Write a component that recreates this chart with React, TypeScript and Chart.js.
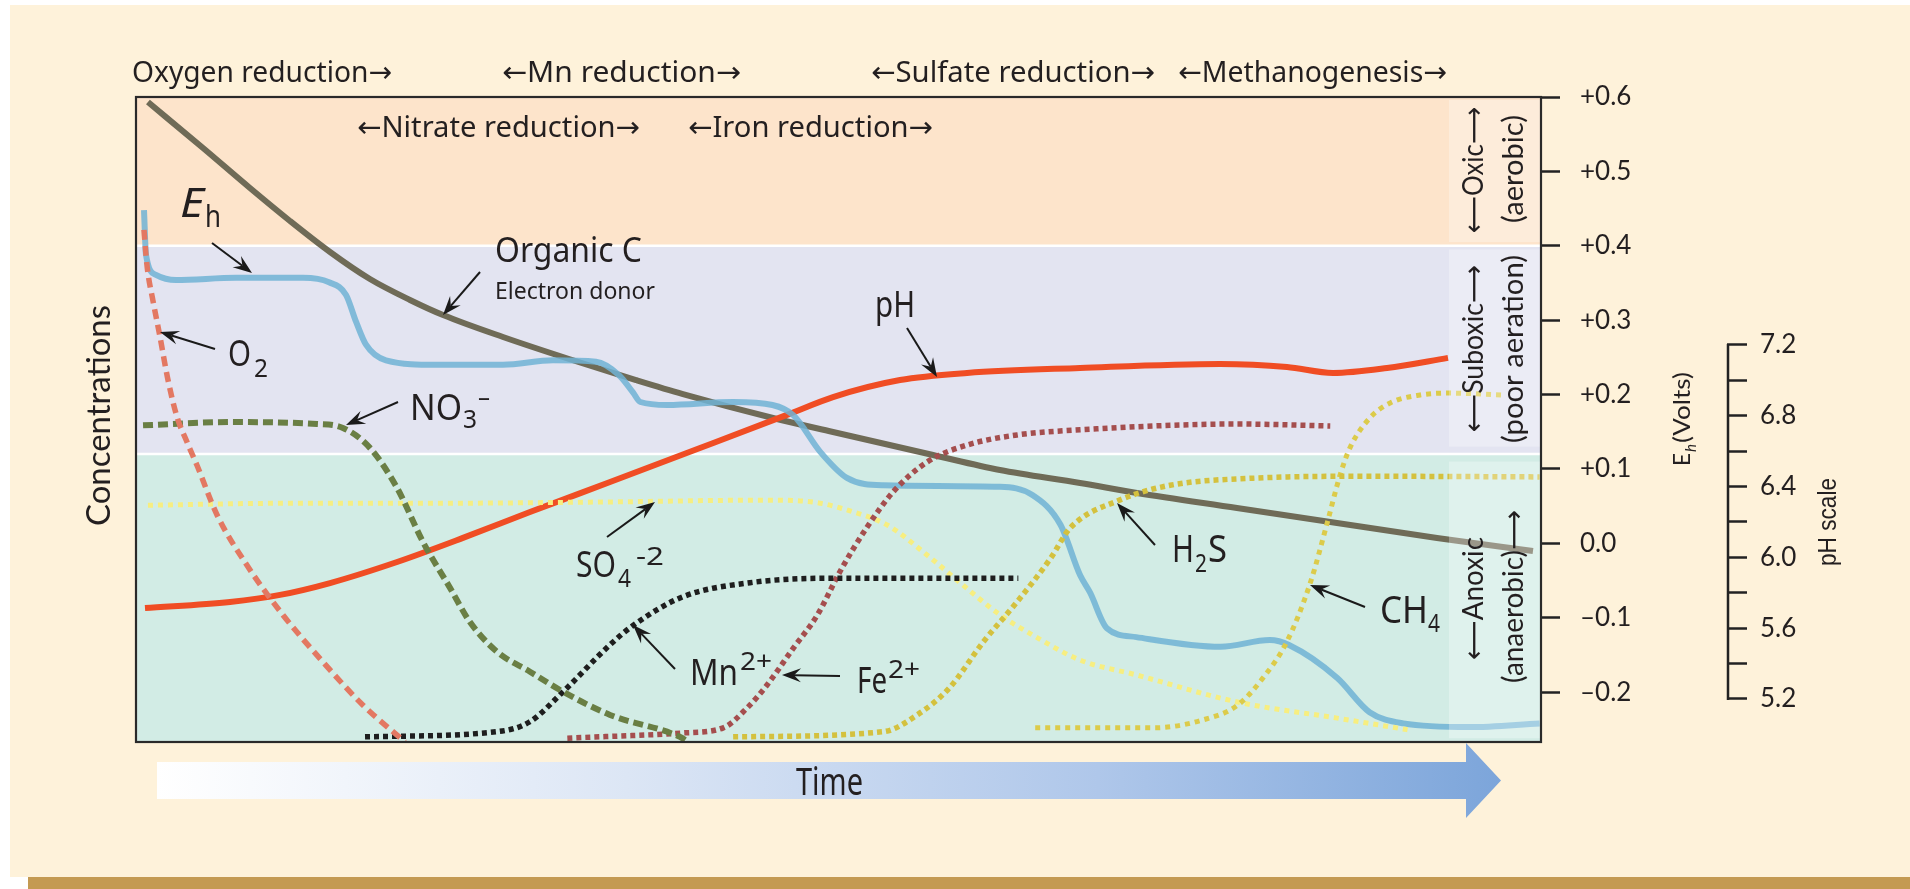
import React, { useEffect, useRef } from 'react';
import { Chart, registerables } from 'chart.js';
Chart.register(...registerables);

const W = 1910;
const H = 889;

// x: time (0–100), y: relative concentration (0–100) unless noted
const organicC = [[0.85,99.22],[4.77,92.09],[8.11,85.89],[10.96,80.78],[13.81,75.97],[16.65,71.78],[19.5,68.53],[21.85,66.2],[26.12,62.79],[30.82,59.38],[35.59,56.12],[38.93,53.95],[45.34,50.23],[49.61,48.06],[56.73,44.5],[61.49,42.17],[67.19,40.16],[71.25,38.6],[78.36,36.28],[85.48,33.95],[92.6,31.63],[99.43,29.61]];
// Eh in volts
const ehVolts = [[0.57,0.448],[0.71,0.388],[1.42,0.361],[2.85,0.354],[7.12,0.357],[11.89,0.357],[13.74,0.351],[14.95,0.334],[15.66,0.298],[16.37,0.267],[17.79,0.246],[21.35,0.24],[26.12,0.24],[29.68,0.246],[32.74,0.244],[34.38,0.226],[35.37,0.203],[35.9,0.19],[37.8,0.186],[42.5,0.19],[45.3,0.186],[46.8,0.172],[48.7,0.123],[50.6,0.088],[53.2,0.078],[61.5,0.076],[63.8,0.065],[65.8,0.025],[67.2,-0.043],[67.9,-0.066],[69.1,-0.114],[71.2,-0.126],[77.2,-0.139],[80.7,-0.13],[82.1,-0.137],[85.5,-0.181],[87.8,-0.227],[90.2,-0.242],[94.9,-0.247],[99.9,-0.242]];
// pH units
const phValues = [[0.64,5.714],[6.69,5.748],[10.25,5.788],[13.81,5.855],[18.58,5.974],[23.27,6.11],[28.04,6.256],[33.74,6.426],[40.14,6.618],[46.33,6.805],[49.61,6.906],[54.38,7.002],[59.15,7.042],[67.19,7.07],[77.15,7.093],[81.92,7.076],[85.2,7.042],[89.04,7.07],[93.38,7.127]];
const o2 = [[0.57,79.4],[0.71,75.5],[0.85,72.7],[1.2,68.5],[1.71,62.8],[2.28,56.1],[2.92,50.4],[3.63,46.5],[4.34,42.9],[5.77,35.2],[7.9,27.4],[10.46,19.7],[13.31,12.4],[16.16,5.7],[19.15,0]];
const no3 = [[0.5,49.1],[6.69,49.6],[12.88,49.3],[14.73,48.7],[16.65,45.6],[18.58,39.4],[20.43,31.0],[22.35,23.9],[23.77,18.6],[25.69,14.0],[28.04,10.9],[30.39,7.8],[33.74,4.2],[38.7,0.8],[39.3,0]];
const so4 = [[0.85,36.7],[10,37.0],[20,37.0],[33.0,37.2],[44.9,37.5],[48.5,37.1],[51.0,35.7],[53.5,33.6],[56.3,29.0],[58.6,24.8],[61.5,19.7],[63.8,16.6],[67.2,12.7],[71.2,10.4],[78.4,6.2],[85.5,3.7],[90.5,1.9]];
const mn = [[16.3,0.8],[25.7,1.6],[28.0,3.1],[30.4,7.8],[33.7,15.0],[35.4,18.1],[38.9,22.5],[43.7,24.7],[49.6,25.4],[62.8,25.4]];
const fe = [[30.7,0.6],[38.9,1.4],[41.8,2.2],[43.5,5.3],[44.9,8.8],[46.8,14.6],[48.5,19.7],[50.1,26.4],[52.0,33.2],[53.9,38.8],[56.3,43.4],[59.1,46.0],[62.7,47.6],[67.2,48.4],[78.4,49.3],[85.0,49.0]];
const h2s = [[42.5,0.8],[53.2,1.6],[55.6,4.2],[57.9,8.4],[60.3,15.5],[62.7,21.7],[65.1,28.5],[66.5,33.2],[70.0,37.5],[73.6,39.8],[79.5,40.9],[87.8,41.2],[99.9,41.1]];
const ch4 = [[64.0,2.2],[72.4,2.2],[75.9,3.4],[78.4,5.7],[80.2,9.9],[81.9,15.5],[83.6,24.8],[84.8,34.1],[85.7,41.4],[86.4,45.6],[87.8,50.2],[89.3,52.6],[91.4,53.8],[93.4,54.1],[97.3,53.8]];

const ehTicks = [-0.2, -0.1, 0, 0.1, 0.2, 0.3, 0.4, 0.5, 0.6];
const phTicks = [5.2, 5.4, 5.6, 5.8, 6.0, 6.2, 6.4, 6.6, 6.8, 7.0, 7.2];

const topLabels = [
  { t: 'Oxygen reduction→', x: 132, y: 82, w: 260 },
  { t: '←Mn reduction→', x: 502, y: 82, w: 239 },
  { t: '←Sulfate reduction→', x: 871, y: 82, w: 284 },
  { t: '←Methanogenesis→', x: 1178, y: 82, w: 269 },
  { t: '←Nitrate reduction→', x: 357, y: 137, w: 283 },
  { t: '←Iron reduction→', x: 688, y: 137, w: 245 },
];

const notes = [
  { t: 'E', x: 180, y: 217, s: 40, w: 24, it: true },
  { t: 'h', x: 205, y: 227, s: 30, w: 16 },
  { t: 'Organic C', x: 495, y: 262, s: 35, w: 147 },
  { t: 'Electron donor', x: 495, y: 299, s: 24, w: 160 },
  { t: 'O', x: 228, y: 366, s: 36, w: 23 },
  { t: '2', x: 254, y: 377, s: 25, w: 14 },
  { t: 'NO', x: 410, y: 420, s: 36, w: 52 },
  { t: '3', x: 463, y: 428, s: 25, w: 14 },
  { t: '–', x: 478, y: 405, s: 24, w: 12 },
  { t: 'pH', x: 875, y: 317, s: 37, w: 40 },
  { t: 'SO', x: 576, y: 577, s: 36, w: 40 },
  { t: '4', x: 618, y: 587, s: 25, w: 13 },
  { t: '-2', x: 636, y: 565, s: 25, w: 28 },
  { t: 'Mn', x: 690, y: 685, s: 36, w: 48 },
  { t: '2+', x: 740, y: 670, s: 25, w: 32 },
  { t: 'Fe', x: 857, y: 693, s: 36, w: 30 },
  { t: '2+', x: 888, y: 678, s: 25, w: 32 },
  { t: 'H', x: 1172, y: 562, s: 38, w: 22 },
  { t: '2', x: 1195, y: 572, s: 25, w: 12 },
  { t: 'S', x: 1208, y: 562, s: 38, w: 19 },
  { t: 'CH', x: 1380, y: 623, s: 38, w: 48 },
  { t: '4', x: 1428, y: 632, s: 25, w: 12 },
];

const arrows = [
  [212, 243, 252, 273],
  [480, 272, 443, 315],
  [215, 349, 160, 332],
  [398, 402, 346, 425],
  [907, 328, 937, 377],
  [607, 537, 655, 502],
  [675, 669, 633, 625],
  [840, 676, 782, 675],
  [1155, 545, 1117, 503],
  [1365, 607, 1310, 585],
];

const rotLabels = [
  { t: '⟵Oxic⟶', x: 1483, y: 233, w: 126, s: 28 },
  { t: '(aerobic)', x: 1523, y: 223, w: 108, s: 28 },
  { t: '⟵Suboxic⟶', x: 1483, y: 432, w: 167, s: 28 },
  { t: '(poor aeration)', x: 1523, y: 443, w: 188, s: 28 },
  { t: '⟵Anoxic', x: 1483, y: 660, w: 123, s: 28 },
  { t: '(anaerobic)⟶', x: 1523, y: 683, w: 173, s: 28 },
];

const bands = [
  { lo: 0.4, hi: 0.6, color: '#FDE4CB' },
  { lo: 0.12, hi: 0.4, color: '#E3E4F1' },
  { lo: -0.267, hi: 0.12, color: '#D2ECE5' },
];
const strips = [
  { lo: 0.405, hi: 0.596 },
  { lo: 0.13, hi: 0.395 },
  { lo: -0.262, hi: 0.11 },
];

const SANS = '"Noto Sans", "DejaVu Sans", sans-serif';
const GILL = 'Lato, "DejaVu Sans", sans-serif';

function drawText(ctx: CanvasRenderingContext2D, t: string, x: number, y: number, font: string, w?: number, rot = 0, color = '#231F20') {
  ctx.save();
  ctx.font = font;
  ctx.fillStyle = color;
  ctx.textAlign = 'left';
  ctx.textBaseline = 'alphabetic';
  ctx.translate(x, y);
  if (rot) ctx.rotate(rot);
  if (w) {
    const m = ctx.measureText(t).width;
    if (m > 0) ctx.scale(w / m, 1);
  }
  ctx.fillText(t, 0, 0);
  ctx.restore();
}

function drawArrow(ctx: CanvasRenderingContext2D, x1: number, y1: number, x2: number, y2: number) {
  const a = Math.atan2(y2 - y1, x2 - x1);
  const L = 19, hw = 7, notch = 12;
  const bx = x2 - Math.cos(a) * notch, by = y2 - Math.sin(a) * notch;
  ctx.save();
  ctx.strokeStyle = '#1A1A1A';
  ctx.fillStyle = '#1A1A1A';
  ctx.lineWidth = 2;
  ctx.beginPath();
  ctx.moveTo(x1, y1);
  ctx.lineTo(bx, by);
  ctx.stroke();
  ctx.beginPath();
  ctx.moveTo(x2, y2);
  ctx.lineTo(x2 - Math.cos(a) * L + Math.sin(a) * hw, y2 - Math.sin(a) * L - Math.cos(a) * hw);
  ctx.lineTo(bx, by);
  ctx.lineTo(x2 - Math.cos(a) * L - Math.sin(a) * hw, y2 - Math.sin(a) * L + Math.cos(a) * hw);
  ctx.closePath();
  ctx.fill();
  ctx.restore();
}

const decor = {
  id: 'decor',
  beforeDraw(chart: any) {
    const ctx = chart.ctx as CanvasRenderingContext2D;
    const { left, right } = chart.chartArea;
    const eh = chart.scales.eh;
    ctx.save();
    ctx.fillStyle = '#FFFFFF';
    ctx.fillRect(0, 0, W, H);
    ctx.fillStyle = '#FEF2DA';
    ctx.fillRect(10, 5, W - 10, 872);
    ctx.fillStyle = '#C49A52';
    ctx.fillRect(28, 877, W - 28, 12);
    for (const b of bands) {
      const y1 = eh.getPixelForValue(b.hi);
      const y2 = eh.getPixelForValue(b.lo);
      ctx.fillStyle = b.color;
      ctx.fillRect(left, y1, right - left, y2 - y1);
    }
    ctx.strokeStyle = '#FFFFFF';
    ctx.lineWidth = 2.5;
    for (const v of [0.4, 0.12]) {
      const y = eh.getPixelForValue(v);
      ctx.beginPath();
      ctx.moveTo(left, y);
      ctx.lineTo(right, y);
      ctx.stroke();
    }
    ctx.restore();
  },
  afterDatasetsDraw(chart: any) {
    const ctx = chart.ctx as CanvasRenderingContext2D;
    const { left, right, top, bottom } = chart.chartArea;
    const eh = chart.scales.eh;
    const xs = chart.scales.x;
    const ph = chart.scales.ph;
    ctx.save();
    const sx1 = xs.getPixelForValue(93.45);
    for (const s of strips) {
      const y1 = eh.getPixelForValue(s.hi);
      const y2 = eh.getPixelForValue(s.lo);
      ctx.fillStyle = 'rgba(255,255,255,0.3)';
      ctx.fillRect(sx1, y1, right - 1 - sx1, y2 - y1);
    }
    ctx.strokeStyle = '#2A2A2A';
    ctx.lineWidth = 2.2;
    ctx.strokeRect(left, top, right - left, bottom - top);
    ctx.strokeStyle = '#222';
    ctx.lineWidth = 2.5;
    ctx.beginPath();
    ctx.moveTo(ph.left + 1, ph.getPixelForValue(7.2) - 1);
    ctx.lineTo(ph.left + 1, ph.getPixelForValue(5.2) + 1);
    ctx.stroke();
    ctx.restore();

    for (const a of arrows) drawArrow(ctx, a[0], a[1], a[2], a[3]);
    for (const n of notes) {
      drawText(ctx, n.t, n.x, n.y, `${n.it ? 'italic ' : ''}${n.s}px ${SANS}`, n.w);
    }
    for (const l of topLabels) drawText(ctx, l.t, l.x, l.y, `29px ${SANS}`, l.w);
    for (const r of rotLabels) drawText(ctx, r.t, r.x, r.y, `${r.s}px ${GILL}`, r.w, -Math.PI / 2);

    drawText(ctx, 'Concentrations', 110, 526, `32px ${GILL}`, 221, -Math.PI / 2);
    drawText(ctx, 'E', 1690, 466, `23px ${GILL}`, 13, -Math.PI / 2);
    drawText(ctx, 'h', 1696, 452, `italic 16px ${GILL}`, 8, -Math.PI / 2);
    drawText(ctx, '(Volts)', 1690, 443, `23px ${GILL}`, 71, -Math.PI / 2);
    drawText(ctx, 'pH scale', 1836, 566, `26px "Liberation Sans", Arial, sans-serif`, 88, -Math.PI / 2);

    ctx.save();
    const g = ctx.createLinearGradient(157, 0, 1501, 0);
    g.addColorStop(0, '#FFFFFF');
    g.addColorStop(0.35, '#DCE6F5');
    g.addColorStop(0.7, '#AFC7EA');
    g.addColorStop(1, '#7CA5DA');
    ctx.fillStyle = g;
    ctx.beginPath();
    ctx.moveTo(157, 762);
    ctx.lineTo(1466, 762);
    ctx.lineTo(1466, 743);
    ctx.lineTo(1501, 780.5);
    ctx.lineTo(1466, 818);
    ctx.lineTo(1466, 799);
    ctx.lineTo(157, 799);
    ctx.closePath();
    ctx.fill();
    ctx.restore();
    drawText(ctx, 'Time', 796, 795, `38px ${SANS}`, 67);
  },
};

const pts = (a: number[][]) => a.map(([x, y]) => ({ x, y }));

export default function App() {
  const ref = useRef<HTMLCanvasElement>(null);
  useEffect(() => {
    document.body.style.margin = '0';
    const line = (label: string, data: number[][], axis: string, color: string, width: number, dash: number[], order: number) => ({
      label,
      data: pts(data),
      yAxisID: axis,
      xAxisID: 'x',
      borderColor: color,
      borderWidth: width,
      borderDash: dash,
      borderCapStyle: 'butt',
      pointRadius: 0,
      fill: false,
      cubicInterpolationMode: 'monotone',
      order,
    });
    const chart = new Chart(ref.current!, {
      type: 'line',
      data: {
        datasets: [
          line('Organic C', organicC, 'conc', '#6F6B57', 6, [], 5),
          line('Eh', ehVolts, 'eh', 'rgba(112,179,213,0.85)', 6, [], 3),
          line('pH', phValues, 'ph', '#F04D24', 6, [], 4),
          line('O2', o2, 'conc', '#E37862', 5.5, [10, 6], 1),
          line('NO3-', no3, 'conc', '#6A7F44', 6, [10, 5], 1),
          line('SO4-2', so4, 'conc', '#F7EE80', 5, [5, 5], 2),
          line('Mn2+', mn, 'conc', '#1E1E1E', 5.5, [5, 4], 1),
          line('Fe2+', fe, 'conc', '#A54E4E', 5.5, [5, 4], 1),
          line('H2S', h2s, 'conc', '#D4C13E', 5.5, [5, 4], 1),
          line('CH4', ch4, 'conc', '#DCCB4A', 5, [5, 5], 1),
        ] as any,
      },
      options: {
        responsive: false,
        animation: false,
        devicePixelRatio: 1,
        events: [],
        layout: { padding: { left: 136, top: 97, right: 0, bottom: 147 } },
        plugins: { legend: { display: false }, tooltip: { enabled: false } },
        scales: {
          x: { type: 'linear', min: 0, max: 100, display: false },
          conc: { type: 'linear', axis: 'y', position: 'left', min: 0, max: 100, display: false },
          eh: {
            type: 'linear',
            axis: 'y',
            position: 'right',
            weight: 0,
            min: -0.267,
            max: 0.6,
            afterBuildTicks: (s: any) => { s.ticks = ehTicks.map((v) => ({ value: v })); },
            afterFit: (s: any) => { s.width = 186; },
            grid: { drawOnChartArea: false, tickLength: 19, tickWidth: 2.5, color: '#222' },
            border: { display: false },
            ticks: {
              autoSkip: false,
              padding: 20,
              color: '#231F20',
              font: { family: 'Lato', size: 26 },
              callback: (v: any) => (v > 0.001 ? '+' + Number(v).toFixed(1) : v < -0.001 ? '–' + Math.abs(v).toFixed(1) : '0.0'),
            },
          },
          ph: {
            type: 'linear',
            axis: 'y',
            position: 'right',
            weight: 1,
            min: 4.957,
            max: 8.601,
            afterBuildTicks: (s: any) => { s.ticks = phTicks.map((v) => ({ value: v })); },
            afterFit: (s: any) => { s.width = 183; },
            grid: { drawOnChartArea: false, tickLength: 20, tickWidth: 2.5, color: '#222' },
            border: { display: false },
            ticks: {
              autoSkip: false,
              padding: 13,
              color: '#231F20',
              font: { family: 'Lato', size: 26 },
              callback: (v: any) => (Math.round(v * 10) % 4 === 0 ? Number(v).toFixed(1) : ''),
            },
          },
        } as any,
      },
      plugins: [decor as any],
    });
    return () => chart.destroy();
  }, []);
  return (
    <div style={{ width: W, height: H, position: 'relative' }}>
      <canvas ref={ref} width={W} height={H} style={{ width: W, height: H, display: 'block' }} />
    </div>
  );
}
